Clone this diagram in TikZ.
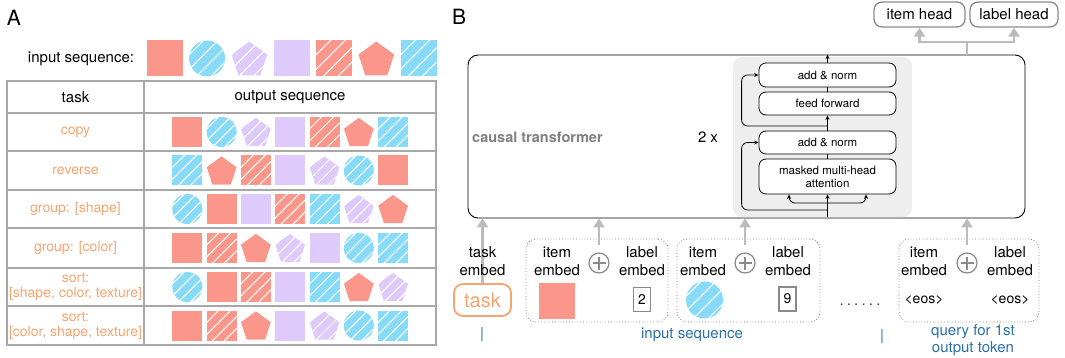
\documentclass[tikz,border=0pt]{standalone}
\usepackage{fontspec}
\setmainfont{TeX Gyre Heros}
\usetikzlibrary{arrows.meta}

\definecolor{cred}{HTML}{FA968A}
\definecolor{cblue}{HTML}{87DBF9}
\definecolor{clav}{HTML}{DFCBFB}
\definecolor{corange}{HTML}{F8A470}
\definecolor{cseq}{HTML}{2B6EAD}
\definecolor{cgrid}{HTML}{A8A8A8}
\definecolor{cblock}{HTML}{EDEEED}
\definecolor{cflow}{HTML}{BBBBBB}
\definecolor{cplus}{HTML}{8A8A8A}

% white stripes, drawn inside a clip
\newcommand{\hatchlines}{\foreach \k in {-.6,-.2,.2,.6}
  \draw[white, line width=1pt] (\k-1,1) -- (\k+1,-1);}

\tikzset{
  % the seven items (unit size, scaled when placed)
  pics/rsq/.style={code={\fill[cred] (-.5,-.5) rectangle (.5,.5);}},
  pics/lsq/.style={code={\fill[clav] (-.5,-.5) rectangle (.5,.5);}},
  pics/rsh/.style={code={\fill[cred] (-.5,-.5) rectangle (.5,.5);
    \begin{scope}\clip (-.5,-.5) rectangle (.5,.5); \hatchlines\end{scope}}},
  pics/bsh/.style={code={\fill[cblue] (-.5,-.5) rectangle (.5,.5);
    \begin{scope}\clip (-.5,-.5) rectangle (.5,.5); \hatchlines\end{scope}}},
  pics/bci/.style={code={\fill[cblue] (0,0) circle (.5);
    \begin{scope}\clip (0,0) circle (.5); \hatchlines\end{scope}}},
  pics/rpe/.style={code={\fill[cred] (0,-.47) -- (.495,-.111) -- (.306,.471) -- (-.306,.471) -- (-.495,-.111) -- cycle;}},
  pics/lpe/.style={code={\fill[clav] (0,-.47) -- (.495,-.111) -- (.306,.471) -- (-.306,.471) -- (-.495,-.111) -- cycle;
    \begin{scope}\clip (0,-.47) -- (.495,-.111) -- (.306,.471) -- (-.306,.471) -- (-.495,-.111) -- cycle; \hatchlines\end{scope}}},
  txt/.style={font=\fontsize{15}{18}\selectfont, align=center, inner sep=0pt},
  tasktxt/.style={text=corange, font=\fontsize{14}{15}\selectfont, align=center, inner sep=0pt},
  seqtxt/.style={text=cseq, font=\fontsize{15}{17}\selectfont, align=center, inner sep=0pt},
  tabline/.style={cgrid, line width=1.5pt},
  blk/.style={draw, fill=white, line width=0.8pt, rounded corners=7pt, minimum width=137pt, inner sep=0pt,
    font=\fontsize{11.5}{13}\selectfont, align=center},
  headbox/.style={draw=cplus, line width=1.3pt, rounded corners=8pt, minimum height=25pt, inner sep=0pt,
    font=\fontsize{15}{18}\selectfont},
  embbox/.style={draw=gray, dotted, line width=0.8pt, rounded corners=10pt, minimum height=83pt, inner sep=0pt},
  numbox/.style={draw=cplus, line width=1.5pt, minimum width=17pt, minimum height=24pt, inner sep=0pt,
    font=\fontsize{14}{16}\selectfont},
  oplus/.style={circle, draw=cplus, line width=1.2pt, minimum size=20pt, inner sep=0pt,
    path picture={\draw[cplus, line width=1.2pt]
      ([yshift=-3.5pt]path picture bounding box.north) -- ([yshift=3.5pt]path picture bounding box.south)
      ([xshift=3.5pt]path picture bounding box.west) -- ([xshift=-3.5pt]path picture bounding box.east);}},
  flow/.style={cflow, line width=2.6pt, -{Triangle[length=9pt,width=11pt]}},
  arr/.style={line width=0.8pt, -{Stealth[length=4.5pt,width=4pt]}},
}

\begin{document}
\begin{tikzpicture}[x=1pt, y=-1pt]
  \useasboundingbox (0,0) rectangle (1065,358);

  % ---- A: tasks ----
  \node[font=\fontsize{21}{24}\selectfont, inner sep=0pt] (la) at (14,17.5) {A};
  \node[txt] (inseq) at (81,59) {input sequence:};
  \foreach \s [count=\i] in {rsq,bci,lpe,lsq,rsh,rpe,bsh}
    \pic[scale=36] at ({122.5+42.3*\i},58.5) {\s};

  % table
  \draw[tabline] (7,81) rectangle (436,345);
  \draw[tabline] (144,81) -- (144,345);
  \foreach \y in {113,151,190,228,268,306}
    \draw[tabline] (7,\y) -- (436,\y);
  \node[txt] (hdtask) at (75.5,97) {task};
  \node[txt] (hdout) at (290,97) {output sequence};

  \node[tasktxt] (tcopy) at (75.5,132) {copy};
  \node[tasktxt] (trev) at (75.5,170.5) {reverse};
  \node[tasktxt] (tgshape) at (75.5,209) {group: [shape]};
  \node[tasktxt] (tgcolor) at (75.5,248) {group: [color]};
  \node[tasktxt] (tsshape) at (75.5,287) {sort:\\{}[shape, color, texture]};
  \node[tasktxt] (tscolor) at (75.5,325.5) {sort:\\{}[color, shape, texture]};

  \foreach \s [count=\i] in {rsq,bci,lpe,lsq,rsh,rpe,bsh}
    \pic[scale=30] at ({153+34.3*\i},132) {\s};
  \foreach \s [count=\i] in {bsh,rpe,rsh,lsq,lpe,bci,rsq}
    \pic[scale=30] at ({153+34.3*\i},170.5) {\s};
  \foreach \s [count=\i] in {bci,rsq,lsq,rsh,bsh,lpe,rpe}
    \pic[scale=30] at ({153+34.3*\i},209) {\s};
  \foreach \s [count=\i] in {rsq,rsh,rpe,lpe,lsq,bci,bsh}
    \pic[scale=30] at ({153+34.3*\i},248) {\s};
  \foreach \s [count=\i] in {bci,rsq,rsh,lsq,bsh,rpe,lpe}
    \pic[scale=30] at ({153+34.3*\i},287) {\s};
  \foreach \s [count=\i] in {rsq,rsh,rpe,lsq,lpe,bci,bsh}
    \pic[scale=30] at ({153+34.3*\i},325.5) {\s};

  % ---- B: model ----
  \node[font=\fontsize{21}{24}\selectfont, inner sep=0pt] (lb) at (459,17) {B};
  \node[draw, line width=0.9pt, rounded corners=10pt, minimum width=557pt, minimum height=163pt] (tf) at (746.5,136.5) {};
  \node[text=gray, font=\fontsize{14.5}{17}\selectfont\bfseries, anchor=west, inner sep=0pt] (tfname) at (472,137) {causal transformer};
  \node[txt] (rep) at (708,137) {2 x};

  % decoder block
  \node[fill=cblock, rounded corners=9pt, minimum width=179pt, minimum height=160pt] (blockbg) at (822.5,137) {};
  \node[blk, minimum height=24pt] (an2) at (827.5,75) {add \& norm};
  \node[blk, minimum height=23pt] (ff) at (827.5,103.5) {feed forward};
  \node[blk, minimum height=23pt] (an1) at (827.5,142.5) {add \& norm};
  \node[blk, minimum height=35pt] (mha) at (827.5,176.5) {masked multi-head\\attention};

  \coordinate (bin) at (827.5,217);
  \coordinate (split) at (827.5,203);
  \draw[arr] (bin) -- (mha.south);
  \draw[arr, rounded corners=6pt] (split) -| ([xshift=-38.5pt]mha.south);
  \draw[arr, rounded corners=6pt] (split) -| ([xshift=38.5pt]mha.south);
  \draw[arr, rounded corners=6pt] (827.5,210) -| ([xshift=-17pt]an1.west) -- (an1.west);
  \draw[line width=0.8pt] (mha.north) -- (an1.south);
  \draw[arr] (an1.north) -- (ff.south);
  \draw[arr, rounded corners=6pt] (827.5,126) -| ([xshift=-17pt]an2.west) -- (an2.west);
  \draw[line width=0.8pt] (ff.north) -- (an2.south);
  \draw[arr] (an2.north) -- (an2.north |- tf.north);

  % heads
  \node[headbox, minimum width=91pt] (ih) at (919.5,14.5) {item head};
  \node[headbox, minimum width=88pt] (lh) at (1014,14.5) {label head};
  \coordinate (hs) at (967,42);
  \draw[cflow, line width=2.6pt] (hs |- tf.north) -- (hs);
  \draw[flow] (hs) -| (ih.south);
  \draw[flow] (hs) -| (lh.south);

  % ---- inputs ----
  \node[draw=corange, text=corange, line width=1.8pt, rounded corners=9pt, minimum width=57pt, minimum height=32pt,
    inner sep=0pt, font=\fontsize{20}{22}\selectfont] (task) at (482.5,300) {task};
  \draw[flow] (task.north) -- (task.north |- tf.south);
  \node[txt] (taskemb) at (482.5,261) {task\\embed};

  \node[embbox, minimum width=142pt] (e1) at (597,280.5) {};
  \node[embbox, minimum width=143pt] (e2) at (748.5,280.5) {};
  \node[embbox, minimum width=140pt] (e3) at (969,280.5) {};

  \node[txt] (ie1) at (557,261) {item\\embed};
  \node[oplus] (p1) at (599,263) {};
  \node[txt] (le1) at (642,261) {label\\embed};
  \pic[scale=36] at (557,300.5) {rsq};
  \node[numbox] (n1) at (642,299.5) {2};

  \node[txt] (ie2) at (703,261) {item\\embed};
  \node[oplus] (p2) at (745,263) {};
  \node[txt] (le2) at (788,261) {label\\embed};
  \pic[scale=37] at (704.5,300) {bci};
  \node[numbox] (n2) at (787.5,299) {9};

  \node[txt] (ie3) at (924,261) {item\\embed};
  \node[oplus] (p3) at (967,263) {};
  \node[txt] (le3) at (1010,261) {label\\embed};
  \node[txt, font=\fontsize{14}{16}\selectfont] (eos1) at (924,300) {<eos>};
  \node[txt, font=\fontsize{14}{16}\selectfont] (eos2) at (1010,300) {<eos>};

  \draw[flow] ([yshift=7pt]p1.north) -- (p1.north |- tf.south);
  \draw[flow] ([yshift=7pt]p2.north) -- (p2.north |- tf.south);
  \draw[flow] ([yshift=7pt]p3.north) -- (p3.north |- tf.south);

  \node[txt, text=darkgray] (dots) at (860,305) {.\hspace{3.2pt}.\hspace{3.2pt}.\hspace{3.2pt}.\hspace{3.2pt}.\hspace{3.2pt}.};

  % sequence marks
  \node[seqtxt] (bar1) at (482,335) {|};
  \node[seqtxt] (seqin) at (692,335) {input sequence};
  \node[seqtxt] (bar2) at (882,337) {|};
  \node[seqtxt] (query) at (973,340.5) {query for 1st\\output token};
\end{tikzpicture}
\end{document}
